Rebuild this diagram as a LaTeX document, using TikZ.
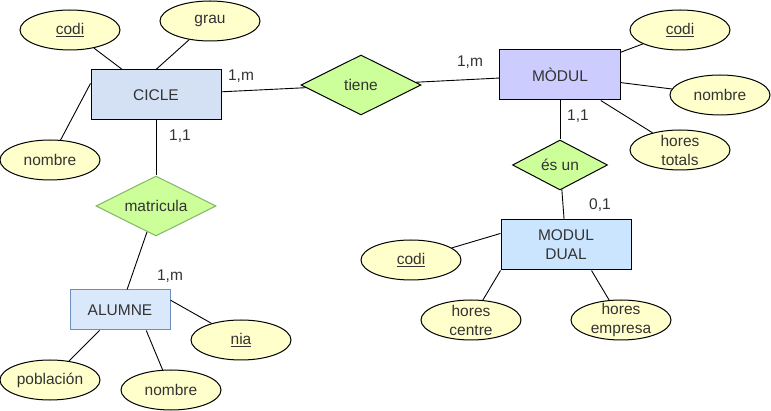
\documentclass[tikz,border=0pt]{standalone}
\usepackage{fontspec}
\setmainfont{Liberation Sans}
\usetikzlibrary{shapes.geometric}
\definecolor{txtgray}{HTML}{333333}
\definecolor{attrfill}{HTML}{FFFFCC}
\definecolor{relfill}{HTML}{CCFF99}
\definecolor{relline}{HTML}{82B366}
\definecolor{ciclefill}{HTML}{D4E1F5}
\definecolor{modulfill}{HTML}{CCCCFF}
\definecolor{dualfill}{HTML}{CCE5FF}
\definecolor{alumfill}{HTML}{DAE8FC}
\definecolor{alumline}{HTML}{6C8EBF}
\begin{document}
\begin{tikzpicture}[x=1pt,y=-1pt,
  every node/.style={font=\fontsize{15.5}{19}\selectfont, text=txtgray},
  entity/.style={draw, rectangle, line width=1pt, inner sep=0pt, minimum height=50, align=center},
  attr/.style={draw, ellipse, line width=1pt, fill=attrfill, inner sep=0pt, minimum width=100, minimum height=40},
  rel/.style={draw, diamond, line width=1pt, fill=relfill, inner sep=0pt, aspect=2},
  card/.style={inner sep=1pt}]
\useasboundingbox (0,0) rectangle (771,411);

% --- entities ---
  \node[entity, fill=ciclefill, minimum width=130] (cicle) at (156,95) {CICLE};
  \node[entity, fill=modulfill, minimum width=121] (modul) at (560,75) {MÒDUL};
  \node[entity, fill=dualfill, minimum width=130] (dual) at (566,245) {MODUL\\DUAL};
  \node[entity, fill=alumfill, draw=alumline, minimum width=100, minimum height=40] (alumne) at (120,310) {ALUMNE};

% --- relations ---
  \node[rel, minimum width=120, minimum height=60] (tiene) at (361,85) {tiene};
  \node[rel, draw=relline, minimum width=120, minimum height=60] (matricula) at (156,206) {matricula};
  \node[rel, minimum width=95, minimum height=50] (esun) at (560,165) {és un};

% --- attributes ---
\foreach \n/\x/\y/\t in {ccodi/70/30/\underline{codi}, grau/210/21/grau, cnombre/50/160/nombre,
    mcodi/680/30/\underline{codi}, mnombre/720/95/nombre, dcodi/411/260/\underline{codi},
    nia/241/340/\underline{nia}, poblacion/50/380/población, anombre/171/390/nombre} {
    \node[attr] (\n) at (\x,\y) {\t};
  }
  % two-line attributes
  \node[attr, label={[align=center]center:hores\\totals}] (mhores) at (680,150) {};
  \node[attr, label={[align=center]center:hores\\centre}] (dcentre) at (471,320) {};
  \node[attr, label={[align=center]center:hores\\empresa}] (dempresa) at (621,320) {};

% --- connectors ---
\foreach \a/\b in {ccodi/cicle, grau/cicle.north, cnombre/cicle.170, cicle/tiene, cicle/matricula,
    tiene/modul, modul/mcodi, modul/mnombre, modul/mhores, modul/esun, esun/dual,
    dual.170/dcodi, dual.south west/dcentre, dual.-45/dempresa,
    matricula/alumne, alumne.11/nia, alumne/poblacion, alumne.-38/anombre} {
    \draw[line width=0.9pt] (\a) -- (\b);
  }

% --- cardinalities ---
  \node[card] (c1) at (241,76) {1,m};
  \node[card] (c2) at (180,136) {1,1};
  \node[card] (c3) at (470,62) {1,m};
  \node[card] (c4) at (578,116) {1,1};
  \node[card] (c5) at (600,205) {0,1};
  \node[card] (c6) at (170,276) {1,m};
\end{tikzpicture}
\end{document}
